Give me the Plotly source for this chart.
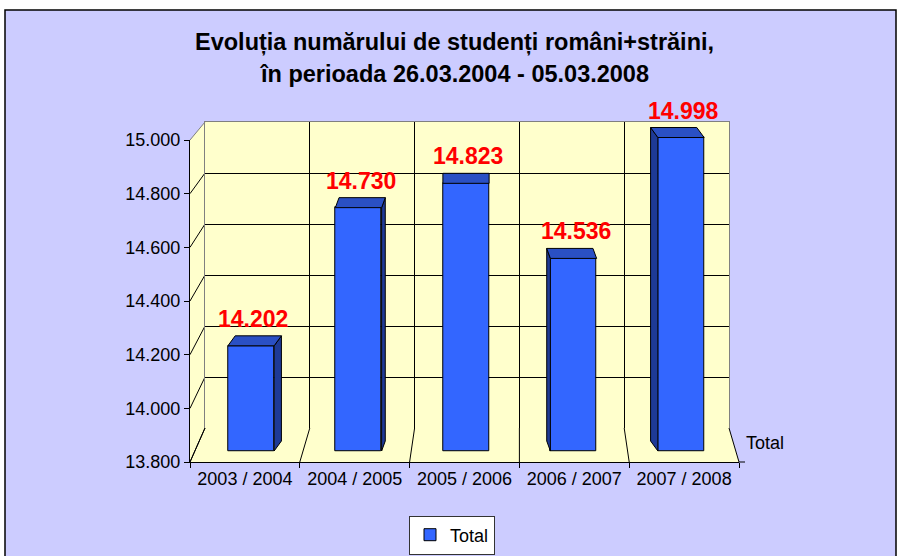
import plotly.graph_objects as go

# ---------------- data ----------------
categories = ["2003 / 2004", "2004 / 2005", "2005 / 2006", "2006 / 2007", "2007 / 2008"]
totals = [14202, 14730, 14823, 14536, 14998]
y_ticks = [13800, 14000, 14200, 14400, 14600, 14800, 15000]
series_name = "Total"
title_line1 = "Evoluția numărului de studenți români+străini,"
title_line2 = "în perioada 26.03.2004 - 05.03.2008"


def fmt(v):
    return f"{v:,}".replace(",", ".")


# ---------------- geometry / style ----------------
W, H = 899, 556
FONT = "Liberation Sans, Arial, sans-serif"
BG = "#CCCCFF"
WALL = "#FFFFCC"
BAR = "#3366FF"
BAR_TOP = "#2A50C4"
BAR_SIDE = "#1E3A96"
GREY = "#808080"


def fx(p):
    return p / W


def fy(p):
    return 1 - p / H


# back wall (pixels)
BW_L, BW_R, BW_T, BW_B = 205, 729, 122, 428
# front plane (pixels)
FR_L, FR_R, FR_T, FR_B = 190, 739, 140, 462
# bar plane: 13800 -> 451 px, 15000 -> 137 px ; category centres 251 + 107.5*i
BAR_BASE_PX, BAR_TOP_PX = 451, 137
Y0, Y1 = 13800, 15000
s = (BAR_BASE_PX - BAR_TOP_PX) / (Y1 - Y0)  # px per unit
R0, R1 = 13785, 15045
bar_dom_top = BAR_BASE_PX - (R1 - Y0) * s
bar_dom_bot = BAR_BASE_PX + (Y0 - R0) * s
CAT_W = 107.5
bar_dom_l = 251 - CAT_W / 2
bar_dom_r = 251 + 4.5 * CAT_W
BAR_WIDTH = 0.43
DEPTH_PX = 10
dy_units = DEPTH_PX / s

fig = go.Figure()

fig.add_trace(go.Scatter(x=[0], y=[14000], mode="markers", marker=dict(opacity=0),
                         hoverinfo="skip", showlegend=False, xaxis="x", yaxis="y"))
fig.add_trace(go.Scatter(x=categories, y=totals, mode="markers", marker=dict(opacity=0),
                         hoverinfo="skip", showlegend=False, xaxis="x2", yaxis="y2"))

xs = list(range(len(categories)))
fig.add_trace(go.Bar(
    x=xs, y=[v - Y0 for v in totals], base=Y0, width=BAR_WIDTH,
    marker=dict(color=BAR, line=dict(color="black", width=1)),
    name=series_name, showlegend=True, hoverinfo="skip",
    xaxis="x3", yaxis="y3",
))

for i, v in enumerate(totals):
    dx = -0.034 * (i - 2)  # perspective shift of back edge (category units)
    L, R = i - BAR_WIDTH / 2, i + BAR_WIDTH / 2
    if abs(dx) > 1e-9:
        e = R if dx > 0 else L
        fig.add_trace(go.Scatter(
            x=[e, e, e + dx, e + dx, e], y=[Y0, v, v + dy_units, Y0 + dy_units, Y0],
            mode="lines", fill="toself", fillcolor=BAR_SIDE,
            line=dict(color="black", width=1), hoverinfo="skip", showlegend=False,
            xaxis="x3", yaxis="y3"))
    fig.add_trace(go.Scatter(
        x=[L, R, R + dx, L + dx, L], y=[v, v, v + dy_units, v + dy_units, v],
        mode="lines", fill="toself", fillcolor=BAR_TOP,
        line=dict(color="black", width=1), hoverinfo="skip", showlegend=False,
        xaxis="x3", yaxis="y3"))

shapes = []
shapes.append(dict(type="rect", xref="paper", yref="paper", x0=fx(5), x1=fx(896), y0=fy(560), y1=fy(10),
                   fillcolor=BG, line=dict(color="black", width=1.5), layer="below"))
shapes.append(dict(type="rect", xref="paper", yref="paper", x0=fx(BW_L), x1=fx(BW_R), y0=fy(BW_B), y1=fy(BW_T),
                   fillcolor=WALL, line=dict(width=0), layer="below"))


def path(pts):
    return "M " + " L ".join(f"{fx(a)},{fy(b)}" for a, b in pts) + " Z"


shapes.append(dict(type="path", xref="paper", yref="paper",
                   path=path([(FR_L, FR_T), (BW_L, BW_T), (BW_L, BW_B), (FR_L, FR_B)]),
                   fillcolor=WALL, line=dict(width=0), layer="below"))
shapes.append(dict(type="path", xref="paper", yref="paper",
                   path=path([(BW_L, BW_B), (BW_R, BW_B), (FR_R, FR_B), (FR_L, FR_B)]),
                   fillcolor=WALL, line=dict(width=0), layer="below"))


def line(x0, y0, x1, y1, color="black", width=1):
    shapes.append(dict(type="line", xref="paper", yref="paper", x0=fx(x0), y0=fy(y0), x1=fx(x1), y1=fy(y1),
                       line=dict(color=color, width=width), layer="below"))


for t in y_ticks:
    yf = FR_B - (t - Y0) / (Y1 - Y0) * (FR_B - FR_T)
    yb = BW_B - (t - Y0) / (Y1 - Y0) * (BW_B - BW_T)
    line(FR_L, yf, BW_L, yb, GREY if t == Y1 else "black")
n = len(categories)
for k in range(n + 1):
    xb = BW_L + k * (BW_R - BW_L) / n
    xf = FR_L + k * (FR_R - FR_L) / n
    line(xb, BW_B, xf, FR_B)
line(FR_R, FR_B, FR_R + 6, FR_B)

annotations = [
    dict(text=title_line1, x=fx(454), y=fy(43), xref="paper", yref="paper", showarrow=False,
         font=dict(family=FONT, size=23.5, color="black", weight="bold"), xanchor="center", yanchor="middle"),
    dict(text=title_line2, x=fx(454), y=fy(74), xref="paper", yref="paper", showarrow=False,
         font=dict(family=FONT, size=23.5, color="black", weight="bold"), xanchor="center", yanchor="middle"),
    dict(text=series_name, x=fx(744), y=fy(443), xref="paper", yref="paper", showarrow=False,
         font=dict(family=FONT, size=18, color="black"), xanchor="left", yanchor="middle"),
]
for i, v in enumerate(totals):
    annotations.append(dict(text=fmt(v), x=i, y=v, xref="x3", yref="y3", showarrow=False,
                            xanchor="center", yanchor="bottom", yshift=12, xshift=2,
                            font=dict(family=FONT, size=23, color="#FF0000", weight="bold")))

fig.update_layout(
    template="none",
    width=W, height=H, margin=dict(l=0, r=0, t=0, b=0, pad=0, autoexpand=False),
    paper_bgcolor="white", plot_bgcolor="rgba(0,0,0,0)",
    font=dict(family=FONT, size=18, color="black"),
    shapes=shapes, annotations=annotations,
    bargap=0,
    xaxis=dict(domain=[fx(BW_L), fx(BW_R)], range=[-0.5, 4.5], anchor="y", side="top",
               tickvals=[k - 0.5 for k in range(n + 1)], showticklabels=False, ticks="",
               showgrid=True, gridcolor="black", gridwidth=1, zeroline=False, automargin=False,
               showline=True, linecolor=GREY, linewidth=1, fixedrange=True),
    yaxis=dict(domain=[fy(BW_B), fy(BW_T)], range=[Y0, Y1], anchor="x",
               tickvals=y_ticks, showticklabels=False, ticks="",
               showgrid=True, gridcolor="black", gridwidth=1, zeroline=False, automargin=False,
               showline=True, mirror=True, linecolor=GREY, linewidth=1, fixedrange=True),
    xaxis2=dict(domain=[fx(FR_L), fx(FR_R)], type="category", categoryorder="array",
                categoryarray=categories, range=[-0.5, 4.5], anchor="y2",
                tickson="boundaries", ticks="outside", ticklen=5, tickcolor="black",
                showgrid=False, zeroline=False, showline=True, linecolor="black", linewidth=1,
                automargin=False, tickfont=dict(family=FONT, size=18, color="black"), fixedrange=True),
    yaxis2=dict(domain=[fy(FR_B), fy(FR_T)], range=[Y0, Y1], anchor="x2",
                tickvals=y_ticks, ticktext=[fmt(t) for t in y_ticks],
                ticks="outside", ticklen=5, tickcolor="black",
                showgrid=False, zeroline=False, showline=True, linecolor="black", linewidth=1,
                automargin=False, tickfont=dict(family=FONT, size=18, color="black"), fixedrange=True),
    xaxis3=dict(domain=[fx(bar_dom_l), fx(bar_dom_r)], range=[-0.5, 4.5], anchor="y3",
                visible=False, fixedrange=True, automargin=False),
    yaxis3=dict(domain=[fy(bar_dom_bot), fy(bar_dom_top)], range=[R0, R1], anchor="x3",
                visible=False, fixedrange=True, automargin=False),
    legend=dict(x=fx(452), y=fy(535), xanchor="center", yanchor="middle",
                bgcolor="white", bordercolor="#333333", borderwidth=1,
                font=dict(family=FONT, size=18, color="black"), itemwidth=30),
    showlegend=True,
)

fig.write_html("out.html", config=dict(displayModeBar=False),
               post_script="document.body.style.margin='0';document.body.style.overflow='hidden';")
